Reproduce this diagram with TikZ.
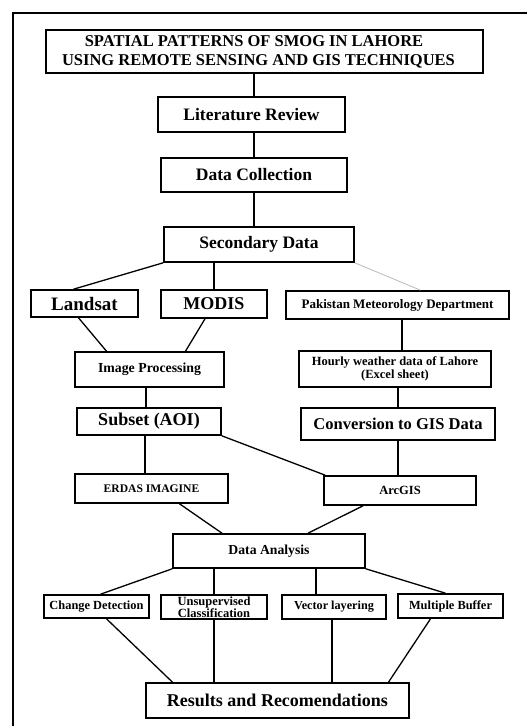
\documentclass[tikz,border=0pt]{standalone}
\usepackage{fontspec}
\setmainfont{Liberation Serif}

\tikzset{
  box/.style={draw, line width=1.6pt, inner sep=0pt, align=center},
  link/.style={line width=1.3pt},
}
\newcommand{\bsize}[2]{\fontsize{#1}{#2}\selectfont\bfseries}

\begin{document}
\begin{tikzpicture}[x=1pt,y=-1pt]
    \useasboundingbox (0,0) rectangle (527,726);
    \draw[line width=2.4pt] (527,13) -| (13,726);

    \node[box, minimum width=437, minimum height=43, font=\bsize{16.5}{19}] (title) at (264.5,51.5)
        {SPATIAL PATTERNS OF SMOG IN LAHORE\hspace*{21pt}\\USING REMOTE SENSING AND GIS TECHNIQUES\hspace*{12pt}};
    \node[box, minimum width=187, minimum height=35, font=\bsize{17.5}{20}] (lit) at (251.5,114.5) {Literature Review};
    \node[box, minimum width=186, minimum height=34, font=\bsize{17.5}{20}] (coll) at (254,175) {Data Collection};
    \node[box, minimum width=190, minimum height=35, font=\bsize{17.5}{20}] (sec) at (259,244.5) {Secondary Data};

    \node[box, minimum width=107, minimum height=27, font=\bsize{19}{22}] (landsat) at (84.5,303.5) {Landsat};
    \node[box, minimum width=106, minimum height=28, font=\bsize{18}{21}] (modis) at (214,304) {MODIS};
    \node[box, minimum width=223, minimum height=28, font=\bsize{13}{15}] (pmd) at (397.5,305) {Pakistan Meteorology Department};

    \node[box, minimum width=149, minimum height=35, font=\bsize{13.8}{16}] (imgproc) at (149.5,369.5) {Image Processing};
    \node[box, minimum width=192, minimum height=36, font=\bsize{12.5}{12.5}] (hourly) at (395,369) {Hourly weather data of Lahore\\(Excel sheet)};

    \node[box, minimum width=144, minimum height=27, font=\bsize{18}{21}] (subset) at (149,421.5) {Subset (AOI)};
    \node[box, minimum width=194, minimum height=32, font=\bsize{16.5}{19}] (conv) at (398,424) {Conversion to GIS Data};

    \node[box, minimum width=153, minimum height=29, font=\bsize{11.6}{14}] (erdas) at (151.5,488.5) {ERDAS IMAGINE};
    \node[box, minimum width=152, minimum height=29, font=\bsize{12.5}{14}] (arcgis) at (400,490.5) {ArcGIS};

    \node[box, minimum width=192, minimum height=34, font=\bsize{13.7}{16}] (analysis) at (269,551) {Data Analysis};

    \node[box, minimum width=105, minimum height=23, font=\bsize{12.4}{13}] (change) at (96.5,606.5) {Change Detection};
    \node[box, minimum width=106, minimum height=24, font=\bsize{12.5}{12.5}] (unsup) at (214,607) {Unsupervised\\Classification};
    \node[box, minimum width=104, minimum height=24, font=\bsize{12.2}{13}] (vector) at (334,607) {Vector layering};
    \node[box, minimum width=105, minimum height=24, font=\bsize{12.4}{13}] (buffer) at (450.5,606) {Multiple Buffer};

    \node[box, minimum width=263, minimum height=35, font=\bsize{18}{21}] (results) at (277.5,700.5) {Results and Recomendations};

    % main column
    \path[link]
        (title.south -| coll) edge (lit.north -| coll)
        (lit.south -| coll) edge (coll.north)
        (coll.south) edge (sec.north -| coll);

    % sources
    \path[link]
        (sec.south west) edge ([xshift=-11pt]landsat.north)
        (sec.south -| modis) edge (modis.north)
        ([xshift=-6pt]landsat.south) edge ([xshift=-43pt]imgproc.north)
        ([xshift=-9pt]modis.south) edge ([xshift=36pt]imgproc.north)
        ([xshift=4.5pt]pmd.south) edge ([xshift=4.5pt]pmd.south |- hourly.north)
        ([xshift=-3pt]subset.north |- imgproc.south) edge ([xshift=-3pt]subset.north)
        (conv.north |- hourly.south) edge (conv.north);
    \draw[gray!55, line width=0.8pt] (sec.south east) -- ([xshift=23pt]pmd.north);

    % software
    \path[link]
        ([xshift=-4pt]subset.south) edge ([xshift=-4pt]subset.south |- erdas.north)
        (subset.south east) edge ([xshift=2pt]arcgis.north west)
        (conv.south) edge (conv.south |- arcgis.north)
        ([xshift=28pt]erdas.south) edge ([xshift=-47pt]analysis.north)
        ([xshift=-37pt]arcgis.south) edge ([xshift=39pt]analysis.north);

    % analysis
    \path[link]
        (analysis.south west) edge ([xshift=4pt]change.north)
        (analysis.south -| unsup) edge (unsup.north)
        ([xshift=-18pt]vector.north |- analysis.south) edge ([xshift=-18pt]vector.north)
        (analysis.south east) edge ([xshift=-5pt]buffer.north)
        ([xshift=10pt]change.south) edge ([xshift=-105pt]results.north)
        (unsup.south) edge (unsup.south |- results.north)
        ([xshift=-2pt]vector.south) edge ([xshift=-2pt]vector.south |- results.north)
        ([xshift=-20pt]buffer.south) edge ([xshift=111pt]results.north);
\end{tikzpicture}
\end{document}
